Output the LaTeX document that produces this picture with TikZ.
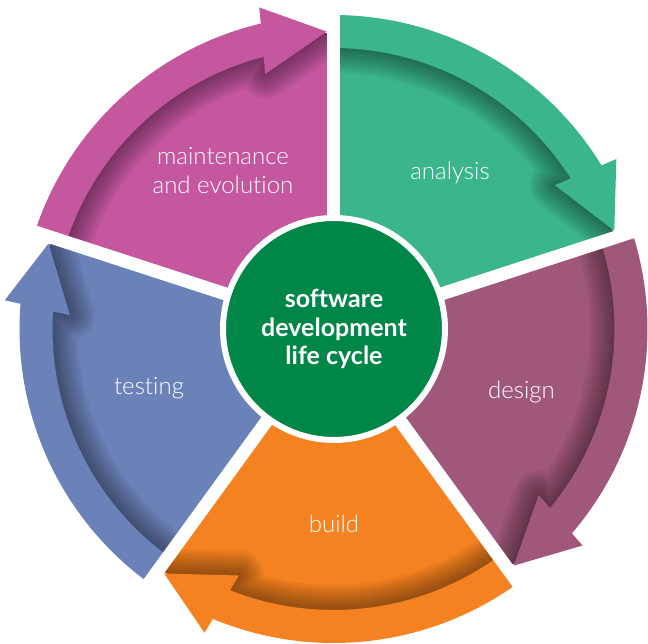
\documentclass[tikz,border=0pt]{standalone}
\usepackage{fontspec}
\setmainfont{Lato}[Ligatures=NoCommon]
\newfontfamily\lightfont{Lato Light}[Ligatures=NoCommon]
\definecolor{cAna}{HTML}{3BB58C}
\definecolor{cDes}{HTML}{A0587A}
\definecolor{cBui}{HTML}{F58220}
\definecolor{cTes}{HTML}{6B82B8}
\definecolor{cMai}{HTML}{C5579F}
\definecolor{cCen}{HTML}{008748}
\tikzset{
  lbl/.style={text=white, font=\lightfont\fontsize{24}{29}\selectfont, inner sep=0pt, align=center},
  corelbl/.style={text=white, font=\bfseries\fontsize{25}{28.5}\selectfont, align=center},
  gapline/.style={white, line width=13pt},
  halo/.style={black, opacity=0.045, line join=round}
}
% #1 start angle (counter-clockwise edge), #2 colour; arrow runs clockwise
\newcommand{\sdlcseg}[2]{%
  \fill[#2] (0,0) -- (#1:296pt) arc[start angle=#1, end angle=#1-72, radius=296pt] -- cycle;
  \begin{scope}
    \clip (0,0) -- (#1:296pt) arc[start angle=#1, end angle=#1-72, radius=296pt] -- cycle;
    \foreach \w in {5,10,...,50}
      \draw[halo, line width=\w pt] (#1+3:281pt) arc[start angle=#1+3, end angle=#1-57.6, radius=281pt]
        -- (#1-57:264pt) -- (#1-70.7:297.5pt) -- (#1-59:330pt);
  \end{scope}
  \fill[#2] (#1:314pt) arc[start angle=#1, end angle=#1-58.6, radius=314pt]
    -- (#1-59:330pt) -- (#1-70.7:297.5pt) -- (#1-57:264pt)
    -- (#1-57.6:281pt) arc[start angle=#1-57.6, end angle=#1, radius=281pt] -- cycle;
}
\begin{document}
\begin{tikzpicture}[x=1pt,y=1pt]
\useasboundingbox (-333.5,-315) rectangle (314.5,329);
\sdlcseg{90}{cAna}
\sdlcseg{18}{cDes}
\sdlcseg{-54}{cBui}
\sdlcseg{-126}{cTes}
\sdlcseg{162}{cMai}
\foreach \g in {90,18,-54,-126,162}
  \draw[gapline] (0,0) -- (\g:345pt);
\node[circle, fill=cCen, draw=white, line width=6pt, minimum size=222pt, inner sep=0pt, corelbl] (core) at (0.5,0)
  {software\\development\\life cycle};
\node[lbl, anchor=center] (mai) at (-110.5,158.5) {maintenance\\and evolution};
\node[lbl, anchor=base] (ana) at (116.5,149) {analysis};
\node[lbl, anchor=base] (des) at (188,-69.8) {design};
\node[lbl, anchor=base] (bui) at (0.5,-204) {build};
\node[lbl, anchor=base] (tes) at (-184.5,-65.6) {testing};
\end{tikzpicture}
\end{document}
